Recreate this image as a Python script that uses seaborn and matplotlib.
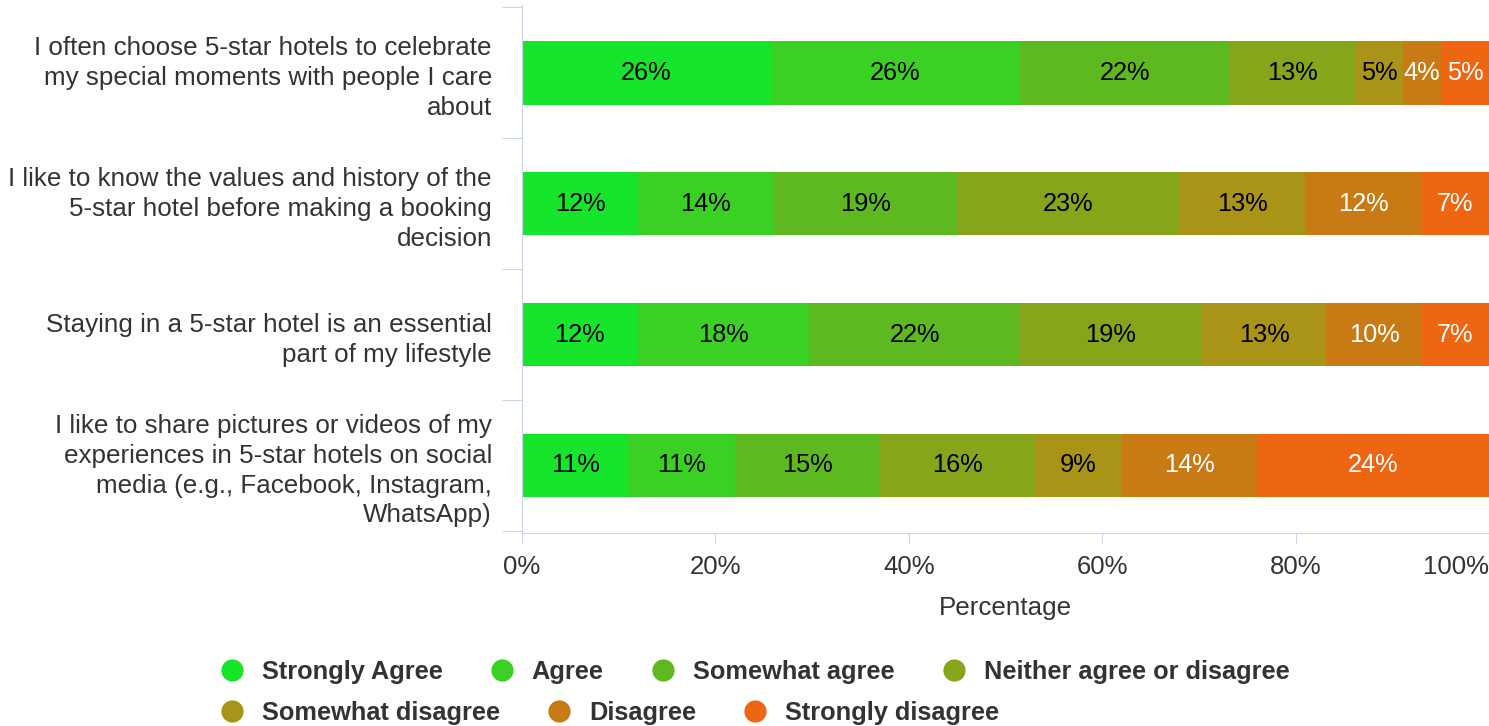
import numpy as np
import pandas as pd
import matplotlib
matplotlib.use("Agg")
import matplotlib.pyplot as plt
from matplotlib.lines import Line2D
from matplotlib.font_manager import FontProperties
import seaborn as sns

# Survey statements (y categories) and response scale (stack order)
statements = [
    "I often choose 5-star hotels to celebrate\nmy special moments with people I care\nabout",
    "I like to know the values and history of the\n5-star hotel before making a booking\ndecision",
    "Staying in a 5-star hotel is an essential\npart of my lifestyle",
    "I like to share pictures or videos of my\nexperiences in 5-star hotels on social\nmedia (e.g., Facebook, Instagram,\nWhatsApp)",
]
responses = [
    "Strongly Agree", "Agree", "Somewhat agree", "Neither agree or disagree",
    "Somewhat disagree", "Disagree", "Strongly disagree",
]

# Share of respondents (%) per response, one value per statement
strongly_agree = [26, 12, 12, 11]
agree = [26, 14, 18, 11]
somewhat_agree = [22, 19, 22, 15]
neither = [13, 23, 19, 16]
somewhat_disagree = [5, 13, 13, 9]
disagree = [4, 12, 10, 14]
strongly_disagree = [5, 7, 7, 24]

x_ticks = [0, 20, 40, 60, 80, 100]
x_tick_labels = ["0%", "20%", "40%", "60%", "80%", "100%"]

colors = ["#17E52B", "#3BD124", "#5EB820", "#86A51B", "#A99418", "#C97A14", "#EF6612"]
label_colors = ["#000000"] * 5 + ["#FFFFFF"] * 2
axis_color = "#CCD6EB"
text_color = "#333333"

series = [strongly_agree, agree, somewhat_agree, neither,
          somewhat_disagree, disagree, strongly_disagree]

# Long table: percent-stacked values per statement
rows = []
for resp, vals in zip(responses, series):
    for stmt, v in zip(statements, vals):
        rows.append({"statement": stmt, "response": resp, "value": v})
df = pd.DataFrame(rows)
df["response"] = pd.Categorical(df["response"], categories=responses, ordered=True)
df["statement"] = pd.Categorical(df["statement"], categories=statements, ordered=True)
df = df.sort_values(["statement", "response"]).reset_index(drop=True)
df["pct"] = df["value"] / df.groupby("statement", observed=True)["value"].transform("sum") * 100
df["end"] = df.groupby("statement", observed=True)["pct"].cumsum()
df["mid"] = df["end"] - df["pct"] / 2

sns.set_theme(style="white")
plt.rcParams["font.family"] = ["Liberation Sans", "DejaVu Sans"]

fig = plt.figure(figsize=(14.89, 7.26), dpi=100)
ax = fig.add_axes([522 / 1489, 1 - 533 / 726, 1 - 522 / 1489, (533 - 5) / 726])

# Stacked bars: draw cumulative totals from the last response back to the first
for resp, col in reversed(list(zip(responses, colors))):
    sub = df[df["response"] == resp]
    sns.barplot(data=sub, x="end", y="statement", order=statements, orient="h",
                color=col, saturation=1, width=0.485, errorbar=None,
                linewidth=0, ax=ax)

# Value labels centred in each segment
for resp, lc in zip(responses, label_colors):
    sub = df[df["response"] == resp]
    for _, r in sub.iterrows():
        ax.text(r["mid"], statements.index(r["statement"]), f"{r['value']}%",
                ha="center", va="center", fontsize=18.3, color=lc)

ax.set_xlim(0, 100)
ax.set_ylim(3.516, -0.518)
ax.set_xticks(x_ticks)
ax.set_xticklabels(x_tick_labels, fontsize=18.5, color=text_color)
ax.get_xticklabels()[-1].set_horizontalalignment("right")
ax.tick_params(axis="x", which="major", direction="out", length=7.2, width=0.8,
               color=axis_color, pad=9, bottom=True)

ax.set_yticks(range(len(statements)))
ax.set_yticklabels(statements, fontsize=18.7, color=text_color)
for t in ax.get_yticklabels():
    t.set_linespacing(1.3)
ax.tick_params(axis="y", which="major", length=0, pad=21.6)
ax.set_yticks([-0.5, 0.5, 1.5, 2.5, 3.5], minor=True)
ax.tick_params(axis="y", which="minor", direction="out", length=14.4, width=0.8,
               color=axis_color, left=True)

ax.set_xlabel("Percentage", fontsize=18.7, color=text_color, labelpad=12)
ax.set_ylabel("")

for side in ["top", "right"]:
    ax.spines[side].set_visible(False)
for side in ["left", "bottom"]:
    ax.spines[side].set_color(axis_color)
    ax.spines[side].set_linewidth(0.8)
ax.grid(False)

# Legend in two rows, flowing left to right
legend_font = FontProperties(family=["Liberation Sans"], weight="bold", size=18.3)
handles = [Line2D([], [], marker="o", linestyle="", markersize=16,
                  markerfacecolor=c, markeredgewidth=0) for c in colors]
common = dict(frameon=False, prop=legend_font, handlelength=1.0, handletextpad=0.68,
              columnspacing=1.83, borderpad=0, borderaxespad=0, labelcolor=text_color,
              loc="center left")
leg1 = fig.legend(handles[:4], responses[:4], ncol=4,
                  bbox_to_anchor=(219 / 1489, 1 - 672 / 726), **common)
leg2 = fig.legend(handles[4:], responses[4:], ncol=3,
                  bbox_to_anchor=(219 / 1489, 1 - 713 / 726), **common)

fig.savefig("out.png", dpi=100)
